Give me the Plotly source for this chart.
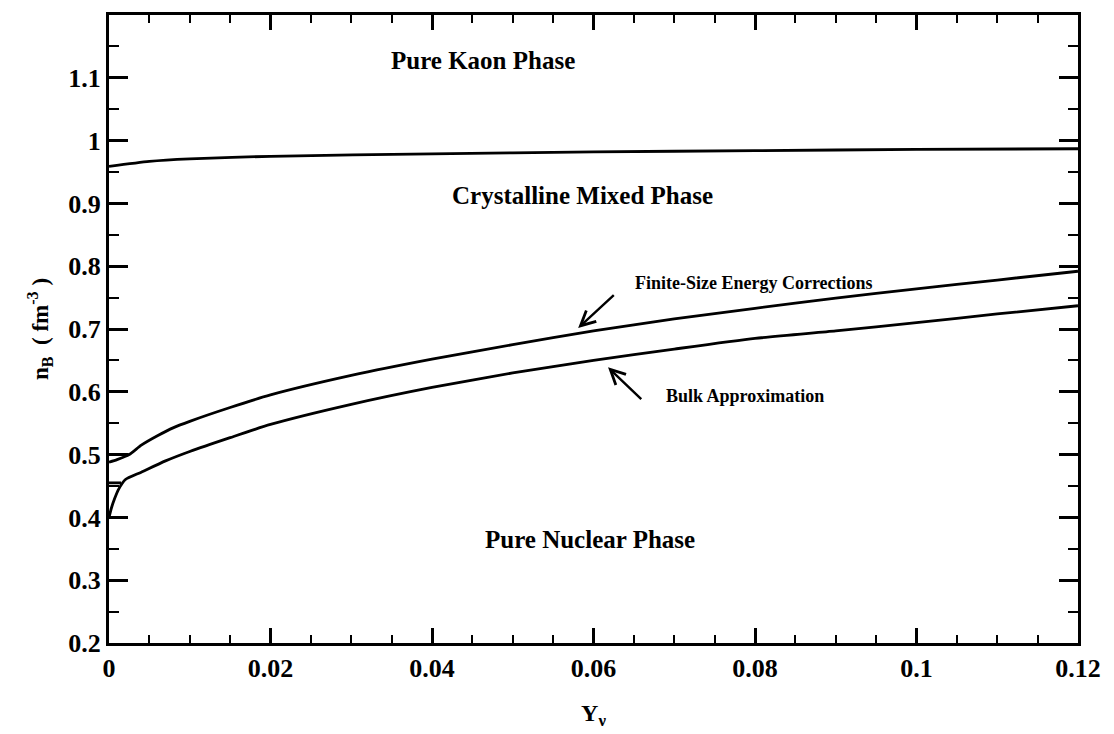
import plotly.graph_objects as go

# Kaon / mixed phase boundary
kaon_x = [0, 0.005, 0.01, 0.02, 0.04, 0.06, 0.08, 0.1, 0.12]
kaon_y = [0.959, 0.967, 0.971, 0.975, 0.979, 0.982, 0.984, 0.986, 0.987]

# Finite-size energy corrections boundary
fs_x = [0, 0.001, 0.0025, 0.004, 0.006, 0.008, 0.01, 0.015, 0.02, 0.03, 0.04,
        0.05, 0.06, 0.07, 0.08, 0.09, 0.1, 0.11, 0.12]
fs_y = [0.488, 0.492, 0.5, 0.515, 0.53, 0.543, 0.553, 0.575, 0.595, 0.626, 0.652,
        0.675, 0.697, 0.716, 0.733, 0.749, 0.764, 0.778, 0.792]
fs_flat_x = [0, 0.0025]
fs_flat_y = [0.5, 0.5]

# Bulk approximation boundary
bulk_x = [0, 0.0003, 0.0007, 0.0012, 0.002, 0.004, 0.007, 0.01, 0.015, 0.02,
          0.03, 0.04, 0.05, 0.06, 0.07, 0.08, 0.09, 0.1, 0.11, 0.12]
bulk_y = [0.40, 0.415, 0.43, 0.445, 0.46, 0.472, 0.49, 0.505, 0.527, 0.548,
          0.58, 0.607, 0.63, 0.65, 0.668, 0.685, 0.697, 0.71, 0.724, 0.737]
bulk_flat_x = [0, 0.0015]
bulk_flat_y = [0.455, 0.455]

xticks = [0, 0.02, 0.04, 0.06, 0.08, 0.1, 0.12]
xticklabels = ["0", "0.02", "0.04", "0.06", "0.08", "0.1", "0.12"]
yticks = [0.2, 0.3, 0.4, 0.5, 0.6, 0.7, 0.8, 0.9, 1.0, 1.1]
yticklabels = ["0.2", "0.3", "0.4", "0.5", "0.6", "0.7", "0.8", "0.9", "1", "1.1"]

FONT = "Liberation Serif"
line = dict(color="black", width=2.8)

fig = go.Figure()
for xs, ys in [(kaon_x, kaon_y), (fs_x, fs_y), (fs_flat_x, fs_flat_y),
               (bulk_x, bulk_y), (bulk_flat_x, bulk_flat_y)]:
    fig.add_trace(go.Scatter(x=xs, y=ys, mode="lines", line=dict(line, shape="spline", smoothing=0.6),
                             showlegend=False, hoverinfo="skip"))

big = dict(family=FONT, size=25, color="black", weight="bold")
small = dict(family=FONT, size=18, color="black", weight="bold")
fig.add_annotation(x=0.0463, y=1.127, text="Pure Kaon Phase", showarrow=False, font=big)
fig.add_annotation(x=0.0586, y=0.912, text="Crystalline Mixed Phase", showarrow=False, font=big)
fig.add_annotation(x=0.0596, y=0.365, text="Pure Nuclear Phase", showarrow=False, font=big)
fig.add_annotation(x=0.0799, y=0.773, text="Finite-Size Energy Corrections", showarrow=False, font=small)
fig.add_annotation(x=0.0788, y=0.594, text="Bulk Approximation", showarrow=False, font=small)
# arrows
fig.add_annotation(x=0.0581, y=0.7016, ax=0.0627, ay=0.756, xref="x", yref="y", axref="x", ayref="y",
                   text="", showarrow=True, arrowhead=5, arrowsize=1.2, arrowwidth=2.4, arrowcolor="black")
fig.add_annotation(x=0.0618, y=0.639, ax=0.0661, ay=0.586, xref="x", yref="y", axref="x", ayref="y",
                   text="", showarrow=True, arrowhead=5, arrowsize=1.2, arrowwidth=2.4, arrowcolor="black")

axis_common = dict(showline=True, linecolor="black", linewidth=3, mirror="allticks",
                   ticks="inside", tickcolor="black", tickwidth=2.5,
                   showgrid=False, zeroline=False,
                   tickfont=dict(family=FONT, size=26, color="black", weight="bold"))

fig.update_xaxes(range=[0, 0.12], tickvals=xticks, ticktext=xticklabels, ticklen=15,
                 minor=dict(ticks="inside", ticklen=8, dtick=0.005, tick0=0, tickcolor="black", tickwidth=2),
                 title=dict(text="Y<sub>ν</sub>", font=dict(family=FONT, size=24, color="black", weight="bold"),
                            standoff=22),
                 **axis_common)
fig.update_yaxes(range=[0.2, 1.2], tickvals=yticks, ticktext=yticklabels, ticklen=19,
                 minor=dict(ticks="inside", ticklen=10, dtick=0.05, tick0=0.2, tickcolor="black", tickwidth=2),
                 title=dict(text="n<sub>B</sub>  ( fm<sup>-3</sup> )",
                            font=dict(family=FONT, size=23, color="black", weight="bold"), standoff=14),
                 **axis_common)

fig.update_layout(width=1114, height=734, margin=dict(l=109, r=36, t=12, b=89),
                  paper_bgcolor="white", plot_bgcolor="white")

fig.write_html("out.html")
